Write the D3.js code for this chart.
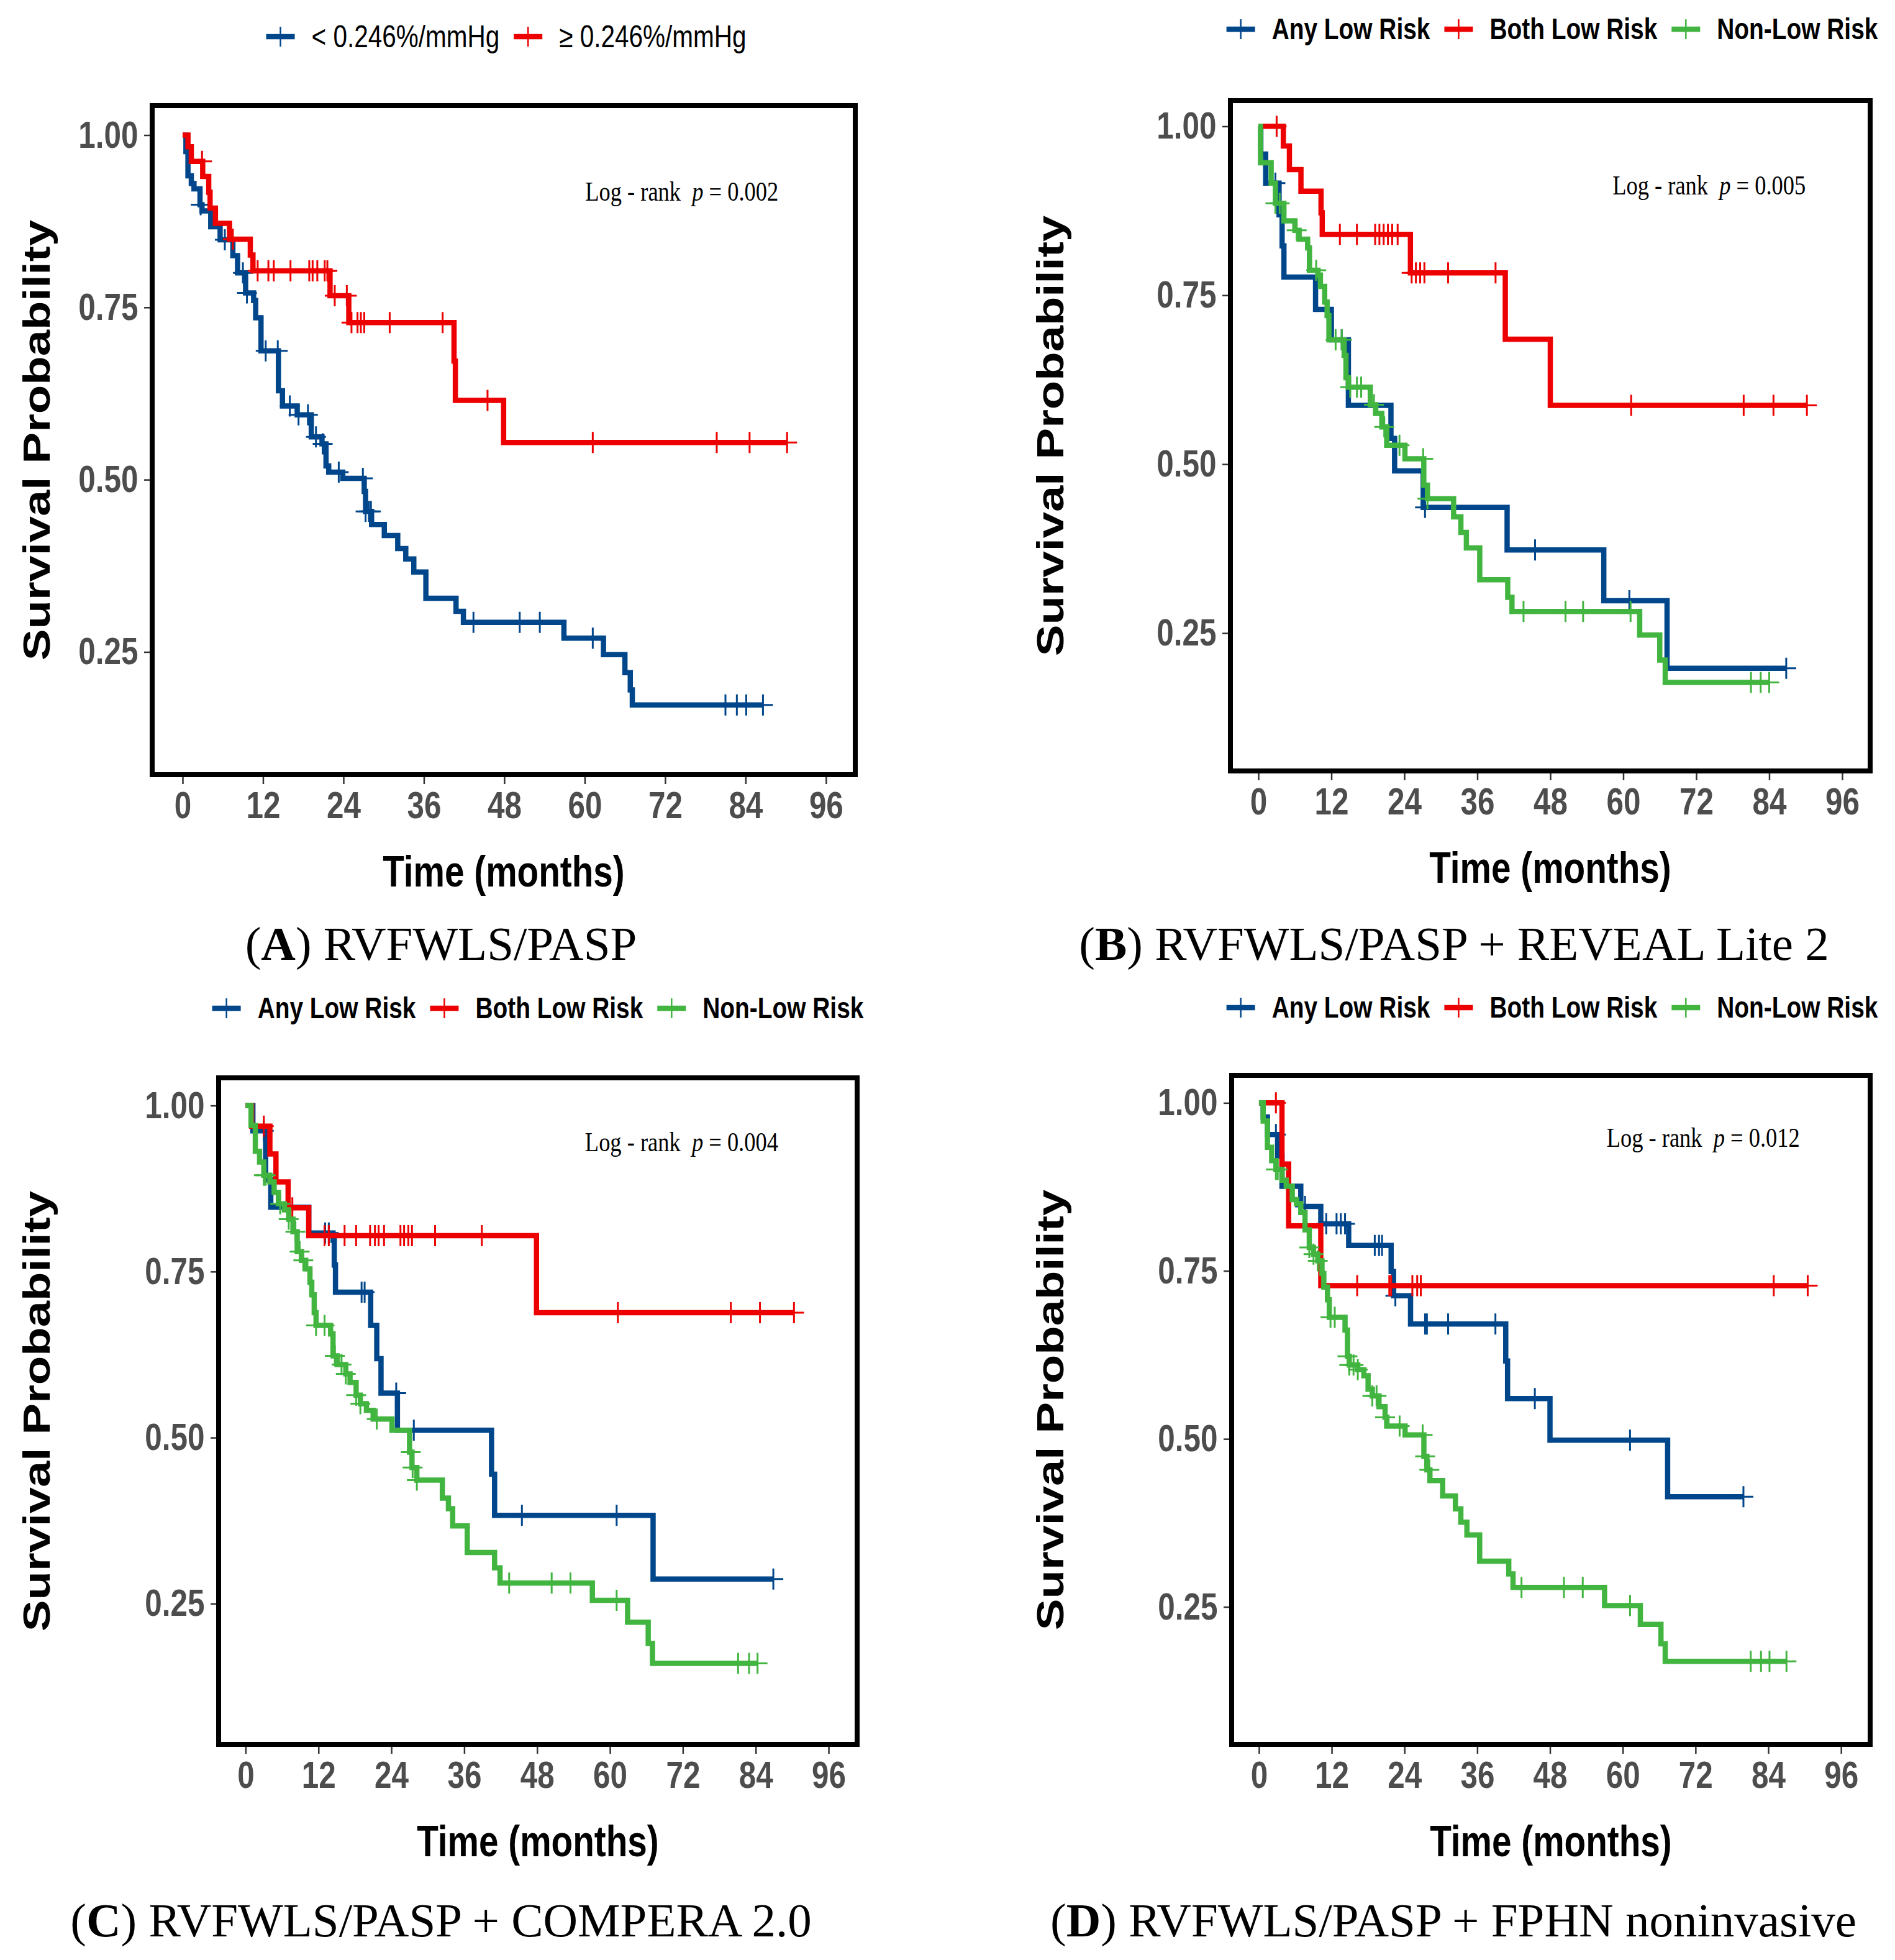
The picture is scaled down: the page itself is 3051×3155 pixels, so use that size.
<!DOCTYPE html>
<html>
<head>
<meta charset="utf-8">
<script src="https://cdn.jsdelivr.net/npm/d3@7"></script>
<style>
  body { margin: 0; background: #fff; }
</style>
</head>
<body>
<div id="chart"></div>
<script>
// axis ticks shared by all four panels
const xTicks = [0, 12, 24, 36, 48, 60, 72, 84, 96];
const yTicks = [0.25, 0.50, 0.75, 1.00];

// (A) RVFWLS/PASP : steps are [month, survival after the drop], cens are censor months
const aLowSteps = [[0,1],[0.5,0.976],[0.8,0.941],[1.3,0.930],[1.7,0.922],[2.6,0.899],[2.9,0.890],[4.2,0.867],[5.6,0.848],[7.5,0.825],[8.2,0.800],[9.4,0.771],[10.6,0.760],[10.9,0.735],[11.7,0.687],[14.3,0.629],[14.9,0.607],[17.1,0.594],[19.2,0.562],[20.8,0.552],[21.4,0.520],[21.8,0.511],[23.9,0.502],[27.1,0.483],[27.3,0.454],[28.2,0.435],[30.1,0.419],[32.1,0.400],[33.3,0.385],[34.5,0.366],[36.3,0.328],[40.8,0.309],[41.9,0.293],[56.9,0.270],[62.8,0.246],[66.0,0.220],[66.8,0.195],[67.1,0.173]];
const aLowCens = [2.7,6.3,9.0,9.6,12.4,14.2,16.0,17.3,18.7,19.9,20.9,23.3,26.9,27.3,27.8,28.1,43.4,50.3,53.3,61.2,81.0,82.7,84.1,86.6];
const aHighSteps = [[0,1],[0.8,0.983],[1.3,0.962],[3.0,0.940],[3.9,0.917],[4.1,0.894],[4.9,0.872],[7.0,0.849],[10.1,0.826],[10.5,0.803],[22.0,0.767],[24.8,0.728],[40.5,0.672],[40.7,0.615],[47.9,0.554]];
const aHighCens = [2.9,7.5,11.2,12.8,13.6,16.1,18.9,19.4,20.1,21.2,21.6,22.7,24.5,25.2,26.1,26.6,27.1,30.9,38.8,45.5,61.2,79.7,84.6,90.2];

// (B) RVFWLS/PASP + REVEAL Lite 2
const bAnySteps = [[0,1],[0.4,0.959],[1.2,0.916],[3.4,0.869],[3.9,0.823],[4.2,0.777],[9.4,0.729],[12.0,0.684],[14.8,0.587],[21.8,0.538],[22.4,0.490],[27.1,0.436],[40.9,0.373],[56.8,0.298],[67.2,0.198]];
const bAnyCens = [2.8,13.7,27.4,45.5,61.0,86.8];
const bBothSteps = [[0,1],[4.1,0.971],[5.1,0.936],[7.0,0.904],[10.3,0.872],[10.5,0.840],[25.0,0.783],[40.6,0.685],[48.0,0.587]];
const bBothCens = [3.0,13.4,16.2,19.2,19.9,20.6,21.3,22.0,22.9,25.2,25.9,26.6,27.3,31.2,39.0,61.3,79.8,84.7,90.2];
const bNonSteps = [[0,1],[0.35,0.946],[2.1,0.916],[2.8,0.886],[4.2,0.860],[6.0,0.846],[6.7,0.833],[8.1,0.820],[8.4,0.787],[9.8,0.780],[10.2,0.763],[10.9,0.740],[11.3,0.720],[11.6,0.684],[14.1,0.661],[14.4,0.628],[14.8,0.614],[18.4,0.588],[19.3,0.575],[20.3,0.555],[21.1,0.528],[24.1,0.508],[27.2,0.469],[27.8,0.449],[32.1,0.422],[33.3,0.399],[34.2,0.376],[36.4,0.329],[41.0,0.303],[41.7,0.282],[62.7,0.247],[66.0,0.210],[66.9,0.177]];
const bNonCens = [2.8,3.5,6.3,9.5,12.7,13.7,15.1,16.2,16.9,19.0,20.7,23.2,27.1,27.8,43.6,50.5,53.4,61.2,81.0,82.6,84.0];

// (C) RVFWLS/PASP + COMPERA 2.0
const cAnySteps = [[0,1],[1.2,0.962],[3.3,0.888],[4.15,0.847],[10.4,0.808],[14.4,0.797],[14.6,0.760],[14.8,0.719],[20.6,0.669],[21.6,0.619],[22.3,0.567],[25.0,0.511],[40.5,0.445],[41.0,0.383],[67.1,0.287]];
const cAnyCens = [3.0,13.1,13.7,19.1,19.6,24.8,27.7,45.5,61.1,86.9];
const cBothSteps = [[0,1],[1.0,0.969],[4.0,0.927],[5.0,0.885],[7.0,0.846],[10.4,0.804],[47.9,0.688]];
const cBothCens = [3.0,7.7,13.0,13.7,16.3,18.2,20.5,21.3,21.9,22.8,25.5,26.1,26.8,27.4,31.2,38.9,61.3,79.9,84.7,90.3];
const cNonSteps = [[0,1],[0.9,0.970],[1.6,0.931],[2.3,0.915],[3.0,0.895],[4.0,0.885],[4.7,0.869],[5.4,0.852],[6.4,0.843],[7.1,0.829],[7.8,0.810],[8.5,0.780],[9.2,0.767],[9.9,0.754],[10.6,0.734],[10.9,0.715],[11.3,0.688],[11.6,0.669],[14.0,0.656],[14.4,0.623],[15.1,0.610],[16.5,0.596],[17.2,0.583],[18.2,0.564],[18.9,0.551],[19.9,0.541],[21.0,0.528],[24.1,0.511],[27.0,0.478],[27.4,0.455],[28.2,0.436],[32.4,0.409],[33.4,0.393],[34.1,0.367],[36.5,0.327],[41.0,0.304],[41.9,0.281],[57.1,0.255],[62.9,0.222],[66.3,0.190],[67.0,0.160]];
const cNonCens = [3.0,3.3,5.7,7.1,8.2,8.9,9.5,11.6,13.0,14.7,15.8,16.5,18.2,18.9,21.6,27.2,27.5,28.2,43.4,50.4,53.5,61.1,81.1,82.9,84.3];

// (D) RVFWLS/PASP + FPHN noninvasive
const dAnySteps = [[0,1],[0.7,0.979],[1.4,0.953],[3.1,0.921],[3.8,0.876],[6.9,0.846],[10.2,0.820],[14.8,0.788],[21.8,0.749],[22.2,0.713],[25.0,0.671],[40.7,0.616],[41.0,0.560],[48.0,0.498],[67.4,0.414]];
const dAnyCens = [2.8,7.6,11.1,12.8,13.5,14.2,19.1,19.8,20.3,22.5,27.4,27.7,31.2,39.0,45.5,61.2,79.9];
const dBothSteps = [[0,1],[3.8,0.909],[4.9,0.817],[10.2,0.728]];
const dBothCens = [2.8,16.2,21.5,21.8,25.3,26.1,26.7,84.9,90.5];
const dNonSteps = [[0,1],[0.7,0.973],[1.4,0.934],[2.1,0.914],[2.8,0.901],[3.8,0.885],[4.5,0.876],[5.5,0.856],[6.2,0.850],[6.9,0.837],[7.6,0.811],[8.3,0.785],[9.0,0.775],[9.7,0.765],[10.4,0.746],[10.7,0.726],[11.3,0.707],[11.6,0.681],[14.2,0.662],[14.6,0.623],[14.9,0.610],[16.3,0.603],[17.3,0.594],[18.0,0.574],[18.7,0.564],[19.8,0.548],[20.8,0.532],[21.1,0.519],[24.1,0.506],[27.2,0.474],[27.7,0.454],[28.2,0.438],[30.3,0.415],[32.4,0.396],[33.3,0.376],[34.3,0.357],[36.4,0.318],[41.2,0.299],[41.9,0.279],[57.0,0.252],[62.9,0.224],[66.3,0.195],[67.0,0.169]];
const dNonCens = [2.8,3.1,8.3,9.0,9.7,11.8,12.5,14.6,14.9,15.6,16.3,18.7,19.4,20.8,23.2,27.0,27.4,28.1,43.3,50.3,53.4,61.2,81.1,82.8,84.2,87.0];

const riskLabels = ["Any Low Risk", "Both Low Risk", "Non-Low Risk"];
const cutLabels = ["< 0.246%/mmHg", "\u2265 0.246%/mmHg"];
const pValues = ["0.002", "0.005", "0.004", "0.012"];

const blue = "#00468B", red = "#ED0000", green = "#42B540";
const SQ = 0.81; // the figure is squeezed horizontally
const sans = "'Liberation Sans', Arial, sans-serif";
const serif = "'Liberation Serif', 'Times New Roman', serif";

const panels = [
  { box: {l: 245, r: 1377, t: 170, b: 1247}, xDomain: [-4.54, 100.37], yDomain: [0.0719, 1.0428],
    series: [{steps: aLowSteps, cens: aLowCens, color: blue}, {steps: aHighSteps, cens: aHighCens, color: red}],
    legend: {labels: cutLabels, cx: 815, cy: 59, size: 50, weight: "normal"},
    yLabelX: 80, p: pValues[0], lr: [88.9, 0.905],
    caption: {letter: "A", text: " RVFWLS/PASP", cx: 710, y: 1545} },
  { box: {l: 1981, r: 3011, t: 162, b: 1241}, xDomain: [-4.6, 100.6], yDomain: [0.046, 1.038],
    series: [{steps: bAnySteps, cens: bAnyCens, color: blue}, {steps: bBothSteps, cens: bBothCens, color: red}, {steps: bNonSteps, cens: bNonCens, color: green}],
    legend: {labels: riskLabels, cx: 2499, cy: 47, size: 48, weight: "bold"},
    yLabelX: 1712, p: pValues[1], lr: [90.0, 0.899],
    caption: {letter: "B", text: " RVFWLS/PASP + REVEAL Lite 2", cx: 2341, y: 1545} },
  { box: {l: 352, r: 1380, t: 1735, b: 2808}, xDomain: [-4.44, 100.7], yDomain: [0.038, 1.0417],
    series: [{steps: cAnySteps, cens: cAnyCens, color: blue}, {steps: cBothSteps, cens: cBothCens, color: red}, {steps: cNonSteps, cens: cNonCens, color: green}],
    legend: {labels: riskLabels, cx: 866, cy: 1623, size: 48, weight: "bold"},
    yLabelX: 80, p: pValues[2], lr: [87.7, 0.931],
    caption: {letter: "C", text: " RVFWLS/PASP + COMPERA 2.0", cx: 710, y: 3117} },
  { box: {l: 1983, r: 3011, t: 1731, b: 2808}, xDomain: [-4.5, 100.8], yDomain: [0.0453, 1.041],
    series: [{steps: dAnySteps, cens: dAnyCens, color: blue}, {steps: dBothSteps, cens: dBothCens, color: red}, {steps: dNonSteps, cens: dNonCens, color: green}],
    legend: {labels: riskLabels, cx: 2499, cy: 1622, size: 48, weight: "bold"},
    yLabelX: 1712, p: pValues[3], lr: [89.2, 0.935],
    caption: {letter: "D", text: " RVFWLS/PASP + FPHN noninvasive", cx: 2340, y: 3117} }
];

const svg = d3.select("#chart").append("svg")
  .attr("width", 3051)
  .attr("height", 3155)
  .style("background", "#fff");

// survival level of a step curve at time t
function levelAt(steps, t) {
  let v = steps[0][1];
  steps.forEach(d => { if (d[0] <= t) v = d[1]; });
  return v;
}

function drawPanel(p) {
  const g = svg.append("g");
  const x = d3.scaleLinear().domain(p.xDomain).range([p.box.l, p.box.r]);
  const y = d3.scaleLinear().domain(p.yDomain).range([p.box.b, p.box.t]);
  const line = d3.line().x(d => x(d[0])).y(d => y(d[1])).curve(d3.curveStepAfter);

  // curves and censor marks
  p.series.forEach(s => {
    const last = s.steps[s.steps.length - 1];
    const end = Math.max(last[0], d3.max(s.cens));
    g.append("path")
      .datum(s.steps.concat([[end, last[1]]]))
      .attr("d", line)
      .attr("fill", "none")
      .attr("stroke", s.color)
      .attr("stroke-width", 8.5);
    g.selectAll(null).data(s.cens).join("path")
      .attr("transform", t => "translate(" + x(t) + "," + y(levelAt(s.steps, t)) + ")")
      .attr("d", "M-16,0H16M0,-17V17")
      .attr("stroke", s.color)
      .attr("stroke-width", 3);
  });

  // panel border
  g.append("rect")
    .attr("x", x(p.xDomain[0]))
    .attr("y", y(p.yDomain[1]))
    .attr("width", x(p.xDomain[1]) - x(p.xDomain[0]))
    .attr("height", y(p.yDomain[0]) - y(p.yDomain[1]))
    .attr("fill", "none")
    .attr("stroke", "#000")
    .attr("stroke-width", 8);

  // x axis
  const gx = g.append("g")
    .attr("transform", "translate(0," + (p.box.b + 4) + ")")
    .call(d3.axisBottom(x).tickValues(xTicks).tickSize(11).tickPadding(12).tickFormat(d3.format("d")));
  // y axis
  const gy = g.append("g")
    .attr("transform", "translate(" + (p.box.l - 4) + ",0)")
    .call(d3.axisLeft(y).tickValues(yTicks).tickSize(9).tickPadding(14).tickFormat(d3.format(".2f")));
  [gx, gy].forEach(a => {
    a.select(".domain").remove();
    a.selectAll(".tick line").attr("stroke", "#333").attr("stroke-width", 2.5);
    a.selectAll(".tick text")
      .attr("font-family", sans)
      .attr("font-weight", "bold")
      .attr("font-size", 61)
      .attr("fill", "#4D4D4D")
      .attr("transform", "scale(" + SQ + ",1)");
  });

  // axis titles
  g.append("text")
    .attr("transform", "translate(" + ((p.box.l + p.box.r) / 2) + "," + (p.box.b + 180) + ") scale(" + SQ + ",1)")
    .attr("text-anchor", "middle")
    .attr("font-family", sans)
    .attr("font-weight", "bold")
    .attr("font-size", 70)
    .text("Time (months)");
  g.append("text")
    .attr("transform", "translate(" + p.yLabelX + "," + ((p.box.t + p.box.b) / 2) + ") scale(" + SQ + ",1) rotate(-90)")
    .attr("text-anchor", "middle")
    .attr("font-family", sans)
    .attr("font-weight", "bold")
    .attr("font-size", 76)
    .text("Survival Probability");

  // log-rank annotation
  const lr = g.append("text")
    .attr("transform", "translate(" + x(p.lr[0]) + "," + y(p.lr[1]) + ") scale(" + SQ + ",1)")
    .attr("text-anchor", "end")
    .attr("font-family", serif)
    .attr("font-size", 45)
    .style("white-space", "pre");
  lr.append("tspan").text("Log - rank  ");
  lr.append("tspan").attr("font-style", "italic").text("p");
  lr.append("tspan").text(" = " + p.p);

  // legend
  const lg = g.append("g");
  let cursor = 0;
  p.legend.labels.forEach((lab, i) => {
    const s = p.series[i];
    lg.append("line").attr("x1", cursor).attr("x2", cursor + 46).attr("y1", 0).attr("y2", 0)
      .attr("stroke", s.color).attr("stroke-width", 8.5);
    lg.append("line").attr("x1", cursor + 23).attr("x2", cursor + 23).attr("y1", -16).attr("y2", 16)
      .attr("stroke", s.color).attr("stroke-width", 2.5);
    cursor += 46 + 27;
    const t = lg.append("text")
      .attr("transform", "translate(" + cursor + "," + Math.round(p.legend.size * 0.34) + ") scale(" + SQ + ",1)")
      .attr("font-family", sans)
      .attr("font-weight", p.legend.weight)
      .attr("font-size", p.legend.size)
      .text(lab);
    cursor += t.node().getComputedTextLength() * SQ + 23;
  });
  const lw = cursor - 23;
  lg.attr("transform", "translate(" + (p.legend.cx - lw / 2) + "," + p.legend.cy + ")");

  // caption under the panel
  const cap = svg.append("text")
    .attr("x", p.caption.cx)
    .attr("y", p.caption.y)
    .attr("text-anchor", "middle")
    .attr("font-family", serif)
    .attr("font-size", 77)
    .style("white-space", "pre");
  cap.append("tspan").text("(");
  cap.append("tspan").attr("font-weight", "bold").text(p.caption.letter);
  cap.append("tspan").text(")" + p.caption.text);
}

panels.forEach(drawPanel);
</script>
</body>
</html>
